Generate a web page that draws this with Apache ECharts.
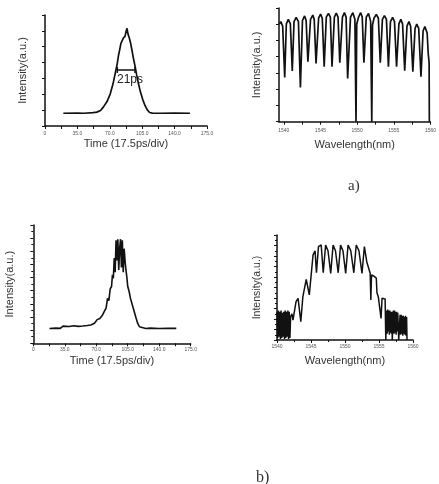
<!DOCTYPE html>
<html><head><meta charset="utf-8">
<script src="https://cdn.jsdelivr.net/npm/echarts@6.0.0/dist/echarts.min.js"></script>
<style>html,body{margin:0;padding:0;background:#fff}#c{width:439px;height:484px}</style>
</head><body><div id="c"></div>
<script>
// ---------- data ----------
const timeLabels = [0, 35, 70, 105, 140, 175];
const wlLabels = [1540, 1545, 1550, 1555, 1560];
const wlTicks = [1540, 1542.5, 1545, 1547.5, 1550, 1552.5, 1555, 1557.5, 1560];

// a) pulse (time, intensity a.u.)
const pulseA = [[19.8,11.5],[35,11.6],[42,11.5],[52,12],[56,12.5],[60,14],[63,17],[67,22],[70.5,29],[73.5,38],[76,48],[78,56],[79.5,64],[81,70],[82,74.5],[84.5,79],[86.5,81],[87.5,85],[88.6,88],[89.6,83],[91,79.5],[92.5,74.5],[94,68],[95.5,61],[97.5,53],[99,46],[101,38],[103,31],[105.5,24],[108,18.5],[110.5,14.5],[113,12.2],[116,11.6],[125,11.5],[140,11.6],[156.6,11.5]];
const fwhmA = [[78.1,50.5],[97.2,50.5]];
const fwhmText = '21ps';

// a) spectrum (wavelength nm, intensity a.u.)
const specA = [[1539.4,86],[1539.6,88],[1539.85,84],[1540.13,39],
[1540.35,86],[1540.62,90],[1540.9,86],[1541.16,44.6],
[1541.4,88],[1541.69,91.8],[1542.0,88],[1542.27,30],
[1542.55,89],[1542.84,93],[1543.05,89],[1543.29,52.8],
[1543.65,90],[1543.96,93.8],[1544.15,90],[1544.4,51.3],
[1544.75,91],[1545.02,94.7],[1545.25,91],[1545.51,48.4],
[1545.8,92],[1546.09,95.3],[1546.35,92],[1546.58,48.4],
[1546.9,92],[1547.16,95.6],[1547.4,92],[1547.64,51.9],
[1548.0,92],[1548.27,95.9],[1548.5,92],[1548.71,38.1],
[1549.1,92],[1549.42,95.9],[1549.7,90],[1549.85,0],[1549.95,86],
[1550.2,92],[1550.49,95.9],[1550.7,92],[1550.93,51.9],
[1551.25,92],[1551.56,95.3],[1551.85,88],[1552.0,0],[1552.1,85],
[1552.3,91],[1552.62,94.4],[1552.9,91],[1553.16,51.9],
[1553.45,90],[1553.73,93.3],[1554.0,90],[1554.27,48.4],
[1554.55,88],[1554.84,91.8],[1555.1,88],[1555.38,48.4],
[1555.7,86],[1555.96,90],[1556.2,86],[1556.49,44.9],
[1556.8,84],[1557.07,88],[1557.3,84],[1557.6,44],
[1557.9,82],[1558.13,85.9],[1558.4,82],[1558.71,39.6],
[1559.0,80],[1559.24,83.6],[1559.55,78],[1559.7,60],[1559.82,52],[1559.85,0]];

// b) pulse
const pulseB = [[18,12.5],[25,12.8],[30,12.6],[33,14.5],[40,14.2],[45,14.8],[50,14.3],[55,14.6],[60,15],[64,15.5],[68,17],[71,20],[74,21],[77,24],[79,27],[81,30],[82.5,38],[84,36],[85.5,46],[87,48],[88,58],[89,55],[90,72],[91,60],[92,87],[93,70],[94,88],[95,62],[96,80],[97,88],[98,64],[99,87],[100,60],[101,80],[102,70],[103,62],[104,56],[105,48],[106.5,44],[108,38],[109.5,34],[111,30],[112.5,26],[114,22],[116,17],[118,14],[120,12.6],[125,12.5],[130,12.8],[140,12.5],[150,12.7],[159,12.6]];

// b) spectrum
const specB = [[1540.0,27],[1540.1,2],[1540.2,28],[1540.3,3],[1540.4,27],[1540.5,1],[1540.6,28],[1540.7,2],[1540.8,26],[1540.9,3],[1541.0,27],[1541.1,1],[1541.2,28],[1541.3,2],[1541.4,27],[1541.5,3],[1541.6,28],[1541.7,1],[1541.8,27],[1541.9,2],[1542.0,22],
[1542.2,25],[1542.35,19],[1542.8,36.5],[1543.1,39.7],[1543.5,17.4],[1543.8,41],[1544.3,57.8],[1544.5,57],[1544.75,42.9],[1545.0,60.3],[1545.3,81],[1545.6,85],[1545.8,64],[1546.1,88.9],[1546.5,90.5],[1546.8,64],
[1547.15,90.5],[1547.5,85],[1547.9,63.5],[1548.25,90.5],[1548.6,85],[1549.0,64],[1549.35,90.5],[1549.7,85],[1550.1,63.5],[1550.45,90.5],[1550.85,85],[1551.3,64],[1551.65,90.5],[1552.05,85],[1552.5,63.5],[1552.85,89],
[1553.2,74.6],[1553.7,63.5],[1553.8,38],[1553.9,62],[1554.2,61],[1554.6,59],[1554.7,45],[1554.9,41],[1555.15,40],[1555.3,20.6],[1555.45,39.7],[1555.9,39],[1556.0,0],
[1556.1,0],[1556.12,28],[1556.2,6],[1556.28,29],[1556.36,8],[1556.44,28],[1556.52,5],[1556.6,28],[1556.68,7],[1556.76,27],[1556.84,6],[1556.9,27],[1556.95,0],[1557.1,0],[1557.12,28],[1557.2,6],[1557.28,28],[1557.36,7],[1557.44,27],[1557.52,5],[1557.6,27],[1557.68,8],[1557.76,26],[1557.85,25],[1557.9,0],[1558.05,0],[1558.1,24],[1558.18,5],[1558.26,24],[1558.34,6],[1558.42,23],[1558.5,4],[1558.58,23],[1558.66,6],[1558.74,22],[1558.82,5],[1558.9,23],[1558.98,4],[1559.06,22],[1559.12,0]];

const timeName = 'Time (17.5ps/div)';
const wlName = 'Wavelength(nm)';
const intName = 'Intensity(a.u.)';

// ---------- chart ----------
const FONT = 'Liberation Sans, Arial, sans-serif';
const axisLine = {show: true, onZero: false, lineStyle: {color: '#111', width: 1.5}};
function xAx(g, min, max, gap, margin, extra) {
  return Object.assign({
    gridIndex: g, type: 'value', min: min, max: max,
    name: g % 2 === 0 ? timeName : wlName, nameLocation: 'middle', nameGap: gap,
    nameTextStyle: {fontFamily: FONT, fontSize: 11, color: '#333'},
    axisLine: axisLine, splitLine: {show: false},
    axisTick: {show: true, inside: false, length: 3, lineStyle: {color: '#111', width: 1}},
  }, extra, {axisLabel: Object.assign({fontFamily: FONT, fontSize: 5, color: '#555', margin: margin, showMinLabel: true, showMaxLabel: true}, extra.axisLabel || {})});
}
function yAx(g, interval, gap, minorSplit, nameSize) {
  return {
    gridIndex: g, type: 'value', min: 0, max: 100, interval: interval,
    name: intName, nameLocation: 'middle', nameGap: gap, nameRotate: 90,
    nameTextStyle: {fontFamily: FONT, fontSize: nameSize, color: '#333'},
    axisLine: axisLine, splitLine: {show: false}, axisLabel: {show: false},
    axisTick: {show: true, inside: false, length: 3, lineStyle: {color: '#111', width: 1}},
    minorTick: {show: minorSplit > 0, splitNumber: minorSplit || 1, length: 2, lineStyle: {color: '#111', width: 1}}
  };
}
const timeFmt = v => v === 0 ? '0' : v.toFixed(1);
const wlFmt = v => String(Math.round(v));
const lineS = (x, data, w) => ({type: 'line', xAxisIndex: x, yAxisIndex: x, data: data, showSymbol: false, symbol: 'none', smooth: false, lineStyle: {color: '#111', width: w || 1.6}, animation: false, silent: true});

const chart = echarts.init(document.getElementById('c'), null, {renderer: 'canvas'});
chart.setOption({
  backgroundColor: '#fff',
  animation: false,
  grid: [
    {left: 45, top: 15, width: 162, height: 111},
    {left: 279, top: 8, width: 154, height: 113.7},
    {left: 33.3, top: 225, width: 157.4, height: 118.3},
    {left: 277, top: 235, width: 136, height: 105}
  ],
  xAxis: [
    xAx(0, 0, 175, 12.5, 5, {interval: 17.5, axisLabel: {customValues: timeLabels, formatter: timeFmt}}),
    xAx(1, 1539.35, 1560, 18, 6, {axisLabel: {customValues: wlLabels, formatter: wlFmt}, axisTick: {show: true, length: 3, customValues: wlTicks, lineStyle: {color: '#111', width: 1}}}),
    xAx(2, 0, 175, 12, 4, {interval: 17.5, axisLabel: {customValues: timeLabels, formatter: timeFmt}}),
    xAx(3, 1540, 1560, 15, 4, {interval: 5, axisLabel: {formatter: wlFmt}, minorTick: {show: true, splitNumber: 2, length: 2, lineStyle: {color: '#111'}}})
  ],
  yAxis: [
    yAx(0, 100 / 7, 16.5, 0, 11),
    yAx(1, 100 / 7, 16.5, 0, 11),
    yAx(2, 100 / 9, 18, 2, 11),
    yAx(3, 10, 14.5, 2, 10.5)
  ],
  series: [
    lineS(0, pulseA, 1.7),
    Object.assign(lineS(0, fwhmA, 1.5), {showSymbol: true, symbol: 'rect', symbolSize: [1.5, 6], itemStyle: {color: '#111'}}),
    lineS(1, specA, 1.7),
    lineS(2, pulseB, 1.6),
    lineS(3, specB, 1.5)
  ],
  graphic: [
    {type: 'text', left: 117, top: 74, style: {text: fwhmText, font: '12px ' + FONT, fill: '#222'}},
    {type: 'text', left: 348, top: 179, style: {text: 'a)', font: '15px Liberation Serif, serif', fill: '#333'}},
    {type: 'text', left: 256, top: 470, style: {text: 'b)', font: '16px Liberation Serif, serif', fill: '#333'}}
  ]
});
</script></body></html>
